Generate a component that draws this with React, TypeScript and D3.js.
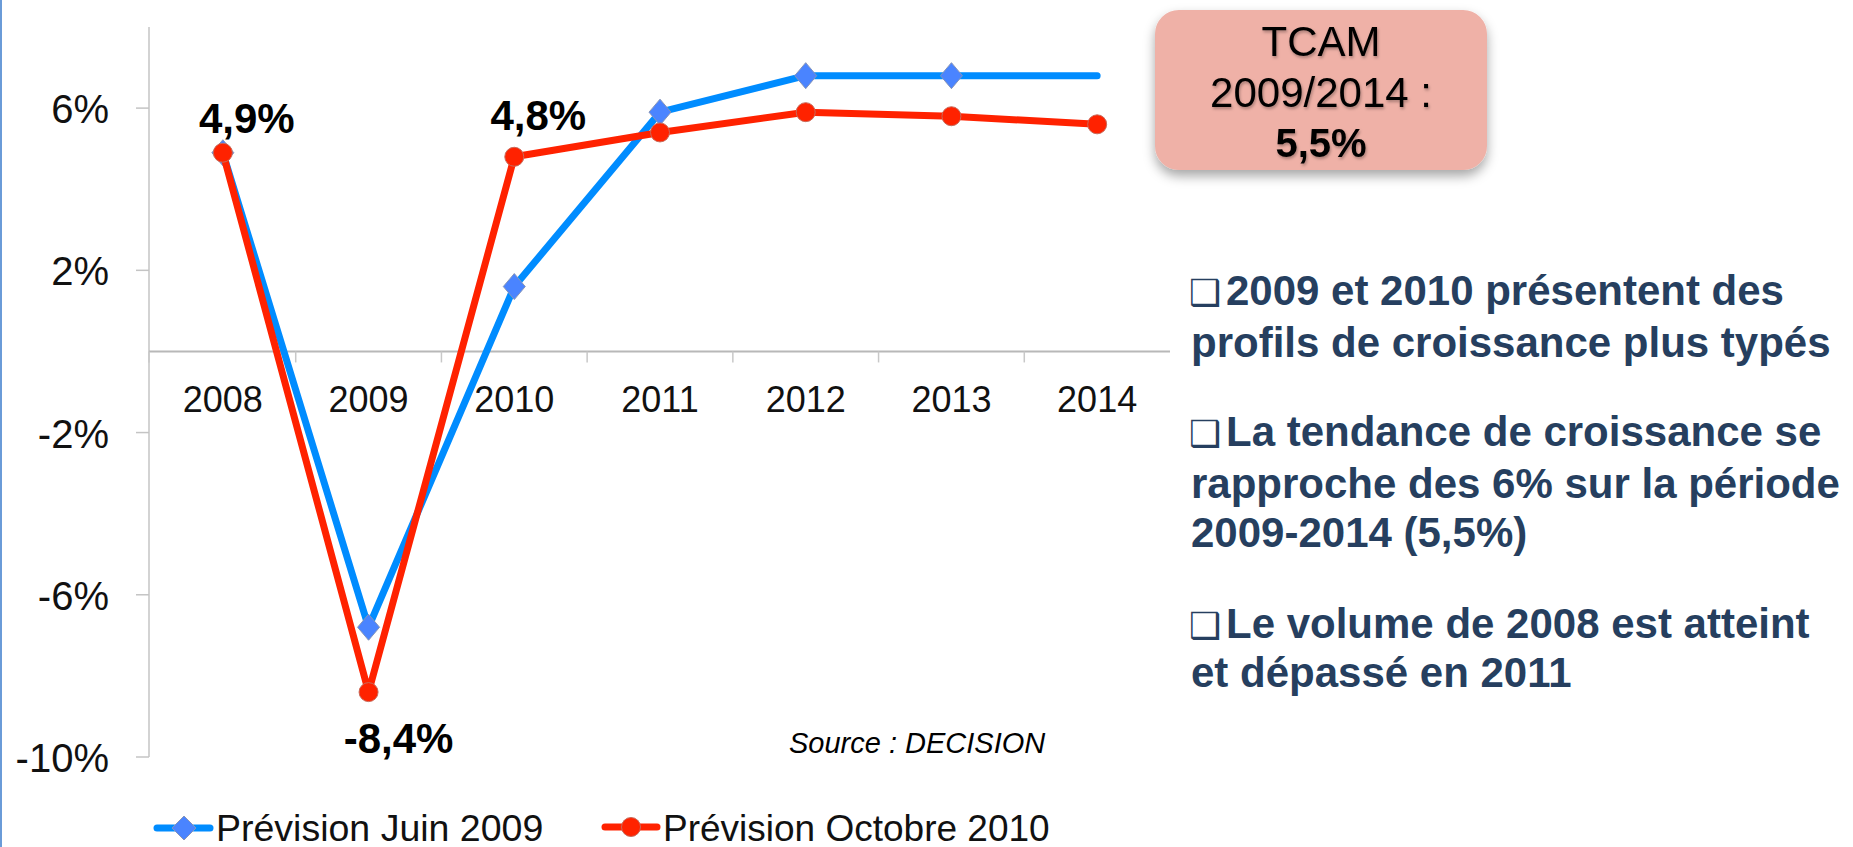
import React from 'react';
import * as d3 from 'd3';

const years = ['2008', '2009', '2010', '2011', '2012', '2013', '2014'];
const juin2009 = [4.9, -6.8, 1.6, 5.9, 6.8, 6.8, 6.8];
const juinMarkerShown = [true, true, true, true, true, true, false];
const octobre2010 = [4.9, -8.4, 4.8, 5.4, 5.9, 5.8, 5.6];
const yTicks = [6, 2, -2, -6, -10];
const yTickLabels = ['6%', '2%', '-2%', '-6%', '-10%'];
const dataLabels = [
  { index: 0, text: '4,9%', dx: 24, dy: -20 },
  { index: 2, text: '4,8%', dx: 24, dy: -27 },
  { index: 1, text: '-8,4%', dx: 30, dy: 61 },
];
const seriesNames = ['Prévision Juin 2009', 'Prévision Octobre 2010'];
const tcamLines = ['TCAM', '2009/2014 :', '5,5%'];
const bulletLines = [
  { text: '2009 et 2010 présentent des', bullet: true },
  { text: 'profils de croissance plus typés', bullet: false },
  { text: 'La tendance de croissance se', bullet: true },
  { text: 'rapproche des 6% sur la période', bullet: false },
  { text: '2009-2014 (5,5%)', bullet: false },
  { text: 'Le volume de 2008 est atteint', bullet: true },
  { text: 'et dépassé en 2011', bullet: false },
];
const bulletBaselines = [305, 357, 446, 498, 547, 638, 687];

const BLUE = '#008cff';
const BLUE_MARK = '#4a84ff';
const RED = '#ff2200';
const FONT = '"Liberation Sans", Arial, Helvetica, sans-serif';

function diamond(cx: number, cy: number, rx: number, ry: number) {
  const p = d3.path();
  p.moveTo(cx, cy - ry);
  p.lineTo(cx + rx, cy);
  p.lineTo(cx, cy + ry);
  p.lineTo(cx - rx, cy);
  p.closePath();
  return p.toString();
}

export default function App() {
  const W = 1853;
  const H = 847;
  const x = d3.scaleBand<string>().domain(years).range([150, 1170]).padding(0);
  const cx = (i: number) => (x(years[i]) as number) + x.bandwidth() / 2;
  const y = d3.scaleLinear().domain([-10, 8]).range([757, 27]);

  const line = d3
    .line<number>()
    .x((_, i) => cx(i))
    .y((d) => y(d));

  const boundaries = d3.range(1, years.length).map((i) => 150 + i * x.bandwidth());

  return (
    <svg
      width={W}
      height={H}
      viewBox={`0 0 ${W} ${H}`}
      style={{ position: 'absolute', left: 0, top: 0, background: '#fff' }}
      fontFamily={FONT}
    >
      <defs>
        <filter id="boxShadow" x="-20%" y="-20%" width="140%" height="150%">
          <feDropShadow dx="0" dy="6" stdDeviation="6" floodColor="#000" floodOpacity="0.35" />
        </filter>
        <filter id="txtShadow" x="-10%" y="-10%" width="120%" height="140%">
          <feDropShadow dx="1" dy="2" stdDeviation="1.5" floodColor="#000" floodOpacity="0.3" />
        </filter>
      </defs>
      <rect x={0} y={0} width={W} height={H} fill="#fff" />
      <rect x={0} y={0} width={2} height={H} fill="#6a9bd8" />

      {/* y axis */}
      <line x1={149} x2={149} y1={y(8)} y2={y(-10)} stroke="#c4c4c4" strokeWidth={1.5} />
      {yTicks.map((t, i) => (
        <g key={t}>
          <line x1={136} x2={149} y1={y(t)} y2={y(t)} stroke="#c4c4c4" strokeWidth={1.5} />
          <text x={109} y={y(t) + 15} textAnchor="end" fontSize={40} fill="#111">
            {yTickLabels[i]}
          </text>
        </g>
      ))}

      {/* x axis */}
      <line x1={149} x2={1170} y1={y(0)} y2={y(0)} stroke="#b8b8b8" strokeWidth={2} />
      {boundaries.map((b) => (
        <line key={b} x1={b} x2={b} y1={y(0)} y2={y(0) + 11} stroke="#c8c8c8" strokeWidth={1.5} />
      ))}
      <line x1={149} x2={149} y1={y(0)} y2={y(0) + 11} stroke="#c8c8c8" strokeWidth={1.5} />
      {years.map((yr, i) => (
        <text key={yr} x={cx(i)} y={412} textAnchor="middle" fontSize={36} fill="#111">
          {yr}
        </text>
      ))}

      {/* blue series */}
      <path d={line(juin2009) || ''} fill="none" stroke={BLUE} strokeWidth={7} strokeLinejoin="round" strokeLinecap="round" />
      {juin2009.map((v, i) =>
        juinMarkerShown[i] ? (
          <path key={i} d={diamond(cx(i), y(v), 11, 13)} fill={BLUE_MARK} stroke="#8795b8" strokeWidth={1} />
        ) : null
      )}

      {/* red series */}
      <path d={line(octobre2010) || ''} fill="none" stroke={RED} strokeWidth={7} strokeLinejoin="round" strokeLinecap="round" />
      {octobre2010.map((v, i) => (
        <circle key={i} cx={cx(i)} cy={y(v)} r={9.5} fill={RED} stroke="#c86a5a" strokeWidth={1} />
      ))}

      {/* data labels */}
      {dataLabels.map((l) => (
        <text
          key={l.text}
          x={cx(l.index) + l.dx}
          y={y(octobre2010[l.index]) + l.dy}
          textAnchor="middle"
          fontSize={42}
          fontWeight="bold"
          fill="#000"
        >
          {l.text}
        </text>
      ))}

      {/* source */}
      <text x={789} y={753} fontSize={29} fontStyle="italic" fill="#000">
        Source : DECISION
      </text>

      {/* legend */}
      <line x1={157} x2={210} y1={828} y2={828} stroke={BLUE} strokeWidth={7} strokeLinecap="round" />
      <path d={diamond(184, 828, 12, 12)} fill={BLUE_MARK} stroke="#8795b8" strokeWidth={1} />
      <text x={216} y={841} fontSize={37.5} fill="#111">
        {seriesNames[0]}
      </text>
      <line x1={605} x2={657} y1={827} y2={827} stroke={RED} strokeWidth={7} strokeLinecap="round" />
      <circle cx={631} cy={827} r={9.5} fill={RED} stroke="#c86a5a" strokeWidth={1} />
      <text x={663} y={841} fontSize={37} fill="#111">
        {seriesNames[1]}
      </text>

      {/* TCAM box */}
      <rect x={1155} y={10} width={332} height={160} rx={24} ry={24} fill="#efb1a7" filter="url(#boxShadow)" />
      {tcamLines.map((t, i) => (
        <text
          key={t}
          x={1321}
          y={56 + i * 50.5}
          textAnchor="middle"
          fontSize={i === 2 ? 40 : 42}
          fontWeight={i === 2 ? 'bold' : 'normal'}
          fill="#000"
          filter="url(#txtShadow)"
        >
          {t}
        </text>
      ))}

      {/* bullets */}
      {bulletLines.map((b, i) => (
        <text key={i} x={1191} y={bulletBaselines[i]} fontSize={42} fontWeight="bold" fill="#263f5f">
          {b.bullet ? (
            <>
              <tspan x={1189} fontFamily="DejaVu Sans" fontWeight="normal" fontSize={36}>❑</tspan>
              <tspan x={1226}>{b.text}</tspan>
            </>
          ) : (
            b.text
          )}
        </text>
      ))}
    </svg>
  );
}
